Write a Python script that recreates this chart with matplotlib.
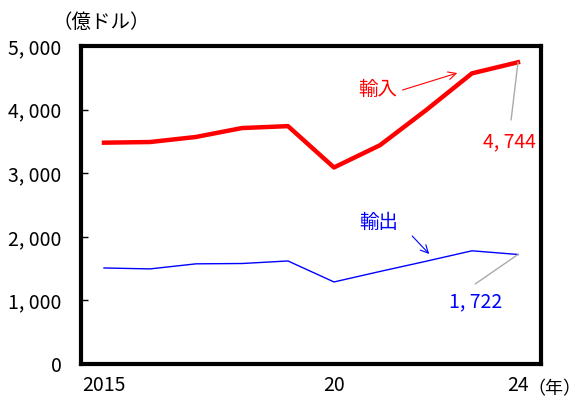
import matplotlib.pyplot as plt

plt.rcParams['font.family'] = ['Noto Sans CJK JP', 'DejaVu Sans']
plt.rcParams['font.size'] = 14

years = [2015, 2016, 2017, 2018, 2019, 2020, 2021, 2022, 2023, 2024]
imports = [3480, 3490, 3570, 3710, 3740, 3090, 3440, 3990, 4570, 4744]
exports = [1510, 1495, 1575, 1580, 1620, 1290, 1455, 1615, 1780, 1722]

xtick_pos = [2015, 2020, 2024]
xtick_lab = ['2015', '20', '24']
ytick_pos = [0, 1000, 2000, 3000, 4000, 5000]
ytick_lab = ['0', '1, 000', '2, 000', '3, 000', '4, 000', '5, 000']

fig = plt.figure(figsize=(5.81, 4.0), dpi=100)
ax = fig.add_axes([0.1394, 0.09, 0.7917, 0.795])

ax.plot(years, imports, color='#ff0000', lw=3.2)
ax.plot(years, exports, color='#0000ff', lw=1)

ax.set_xlim(2014.5, 2024.5)
ax.set_ylim(0, 5000)
ax.set_xticks(xtick_pos, xtick_lab)
ax.set_yticks(ytick_pos, ytick_lab)
ax.tick_params(axis='x', length=0, pad=8)
ax.tick_params(axis='y', direction='in', length=5, width=1, pad=14)
for s in ax.spines.values():
    s.set_linewidth(3)

# unit labels
fig.text(0.174, 0.945, '（億ドル）', fontsize=14, ha='center', va='center')
fig.text(0.955, 0.028, '（年）', fontsize=13, ha='center', va='center')

# series labels with arrows
ax.text(2020.95, 4310, '輸入', color='#ff0000', fontsize=14, ha='center', va='center')
ax.annotate('', xy=(2022.68, 4575), xytext=(2021.49, 4308),
            arrowprops=dict(arrowstyle='->', color='#ff0000', lw=0.8,
                            shrinkA=0, shrinkB=0))
ax.text(2020.98, 2220, '輸出', color='#0000ff', fontsize=14, ha='center', va='center')
ax.annotate('', xy=(2022.07, 1730), xytext=(2021.70, 2013),
            arrowprops=dict(arrowstyle='->', color='#0000ff', lw=0.8,
                            shrinkA=0, shrinkB=0))

# value labels with leader lines
ax.text(2023.81, 3490, f'{imports[-1]:,}'.replace(',', ', '), color='#ff0000',
        fontsize=14, ha='center', va='center')
ax.annotate('', xy=(years[-1], imports[-1]), xytext=(2023.85, 3836),
            arrowprops=dict(arrowstyle='-', color='#aaaaaa', lw=1,
                            shrinkA=0, shrinkB=0))
ax.text(2023.07, 975, f'{exports[-1]:,}'.replace(',', ', '), color='#0000ff',
        fontsize=14, ha='center', va='center')
ax.annotate('', xy=(years[-1], exports[-1]), xytext=(2023.07, 1258),
            arrowprops=dict(arrowstyle='-', color='#aaaaaa', lw=1,
                            shrinkA=0, shrinkB=0))

fig.savefig('out.png', dpi=100)
